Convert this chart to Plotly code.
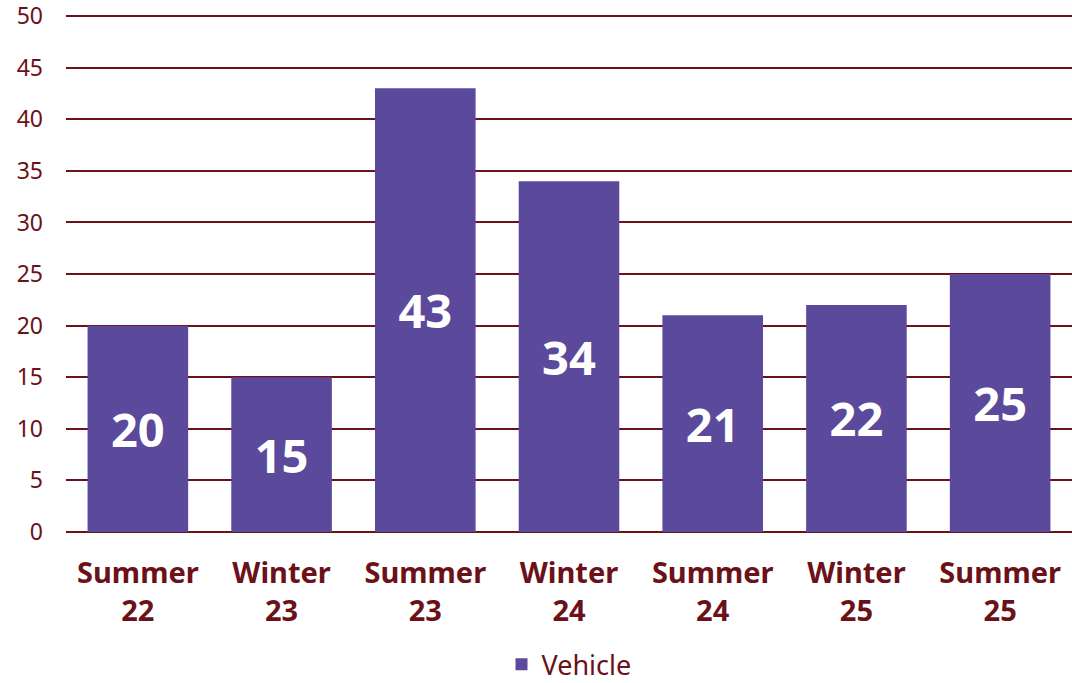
import plotly.graph_objects as go

categories = ["Summer<br>22", "Winter<br>23", "Summer<br>23", "Winter<br>24", "Summer<br>24", "Winter<br>25", "Summer<br>25"]
vehicle = [20, 15, 43, 34, 21, 22, 25]
y_ticks = [0, 5, 10, 15, 20, 25, 30, 35, 40, 45, 50]

maroon = "#6B1118"
bar_color = "#5B4A9B"
font_family = "Noto Sans, DejaVu Sans, sans-serif"

fig = go.Figure()
fig.add_trace(go.Bar(
    x=categories, y=vehicle, name="Vehicle",
    marker=dict(color=bar_color, line=dict(width=0)),
    text=[str(v) for v in vehicle], textposition="inside",
    insidetextanchor="middle",
    textfont=dict(color="white", size=47, family=font_family, weight="bold"),
    showlegend=True,
))

fig.update_layout(
    width=1072, height=683,
    margin=dict(l=66, r=0, t=14, b=151, autoexpand=False),
    paper_bgcolor="white", plot_bgcolor="white",
    bargap=0.3,
    font=dict(family=font_family, color=maroon),
    showlegend=True,
    legend=dict(orientation="h", x=0.5, xanchor="center", y=-0.209, yanchor="top",
                font=dict(size=27, color=maroon, family=font_family),
                itemsizing="constant"),
    xaxis=dict(
        showgrid=False, showline=False, zeroline=False, ticks="",
        automargin=False, ticklabelstandoff=21,
        tickfont=dict(size=29, color=maroon, family=font_family, weight="bold"),
    ),
    yaxis=dict(
        range=[0, 50.2], tickvals=y_ticks, showgrid=True, gridcolor=maroon, gridwidth=2,
        zeroline=True, zerolinecolor=maroon, zerolinewidth=2,
        showline=False, ticks="", ticklabelstandoff=22, automargin=False,
        ticklabeloverflow="allow",
        tickfont=dict(size=23, color=maroon, family=font_family),
    ),
    uniformtext=dict(mode=False),
)

fig.write_html(
    "out.html",
    config={"displayModeBar": False},
    post_script="document.body.style.margin='0';document.body.style.overflow='hidden';",
)
